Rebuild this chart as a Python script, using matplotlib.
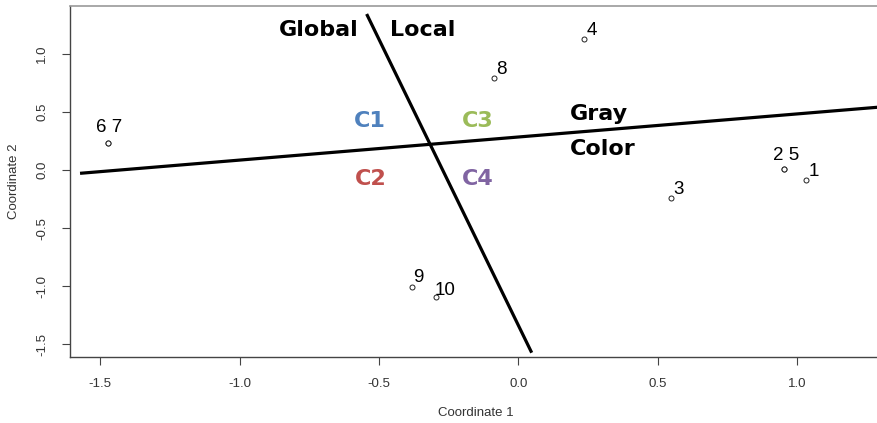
import matplotlib
matplotlib.use("Agg")
import matplotlib.pyplot as plt

plt.rcParams["axes.unicode_minus"] = False

# ---- data ----
point_ids = ["1", "2", "3", "4", "5", "6", "7", "8", "9", "10"]
coord1 = [1.033, 0.952, 0.547, 0.234, 0.952, -1.473, -1.473, -0.087, -0.382, -0.296]
coord2 = [-0.081, 0.009, -0.239, 1.133, 0.009, 0.238, 0.238, 0.795, -1.003, -1.089]

# label groups (points sharing a position get one combined label)
label_texts = ["1", "2 5", "3", "4", "6 7", "8", "9", "10"]
label_anchor = ["1", "2", "3", "4", "6", "8", "9", "10"]

# divider lines
gray_color_x = [-1.572, 1.5]
gray_color_y = [-0.026, 0.585]
global_local_x = [-0.544, 0.048]
global_local_y = [1.346, -1.571]

region_names = ["Global", "Local", "C1", "C2", "C3", "C4", "Gray", "Color"]

# ---- styling / placement ----
label_offsets_px = {"1": (7.7, 10.2), "2 5": (2.3, 16.3), "3": (7.5, 10.5),
                    "4": (7.8, 10.4), "6 7": (1.0, 17.0), "8": (7.7, 11.0),
                    "9": (6.3, 11.0), "10": (9.0, 8.7)}
region_pos = {"Global": (-0.714, 1.157, "center"), "Local": (-0.344, 1.157, "center"),
              "C1": (-0.531, 0.3755, "center"), "C3": (-0.1445, 0.3755, "center"),
              "C2": (-0.531, -0.1266, "center"), "C4": (-0.1445, -0.1266, "center"),
              "Gray": (0.1854, 0.433, "left"), "Color": (0.1854, 0.1318, "left")}
region_colors = {"Global": "black", "Local": "black", "Gray": "black", "Color": "black",
                 "C1": "#4F81BD", "C2": "#C0504D", "C3": "#9BBB59", "C4": "#8064A2"}

W, H = 877, 423
fig = plt.figure(figsize=(W / 100, H / 100), dpi=100)
L, R, T, B = 70, 882, 6, 357
ax = fig.add_axes([L / W, 1 - B / H, (R - L) / W, (B - T) / H])
ax.set_xlim(-1.608, 1.3045)
ax.set_ylim(-1.608, 1.415)

ax.plot(gray_color_x, gray_color_y, color="black", lw=2.3, solid_capstyle="butt")
ax.plot(global_local_x, global_local_y, color="black", lw=2.3, solid_capstyle="butt")

ax.plot(coord1, coord2, linestyle="none", marker="o", markersize=3.6,
        markerfacecolor="white", markeredgecolor="#222222", markeredgewidth=0.7, zorder=3)

cap = 0.716 * 13.5 * 100 / 72 / 2  # half digit height in px
for txt, anc in zip(label_texts, label_anchor):
    i = point_ids.index(anc)
    dx, dy = label_offsets_px[txt]
    ax.annotate(txt, (coord1[i], coord2[i]), xytext=(dx, dy - cap),
                textcoords="offset pixels", ha="center", va="baseline",
                fontsize=13.5, family="Liberation Sans", color="black")

for name in region_names:
    x, y, ha = region_pos[name]
    ax.text(x, y, name, ha=ha, va="baseline", fontsize=16, fontweight="bold",
            family="DejaVu Sans", color=region_colors[name])

for side in ["left", "bottom", "right"]:
    ax.spines[side].set_color("#444444")
    ax.spines[side].set_linewidth(1.0)
ax.spines["top"].set_color("#999999")
ax.spines["top"].set_linewidth(1.2)

ax.set_xticks([-1.5, -1.0, -0.5, 0.0, 0.5, 1.0])
ax.set_yticks([-1.5, -1.0, -0.5, 0.0, 0.5, 1.0])
ax.tick_params(axis="both", length=5.8, width=0.8, color="#444444",
               labelsize=9.5, labelcolor="#333333")
ax.tick_params(axis="x", pad=9.0)
ax.tick_params(axis="y", pad=10.0)
for lab in ax.get_xticklabels() + ax.get_yticklabels():
    lab.set_family("Liberation Sans")
for lab in ax.get_yticklabels():
    lab.set_rotation(90)
    lab.set_va("center")

fig.text(476 / W, 1 - 413 / H, "Coordinate 1", ha="center", va="center",
         fontsize=9.5, family="Liberation Sans", color="#333333")
fig.text(14 / W, 1 - 181 / H, "Coordinate 2", ha="center", va="center", rotation=90,
         fontsize=9.5, family="Liberation Sans", color="#333333")

fig.savefig("out.png", dpi=100)
